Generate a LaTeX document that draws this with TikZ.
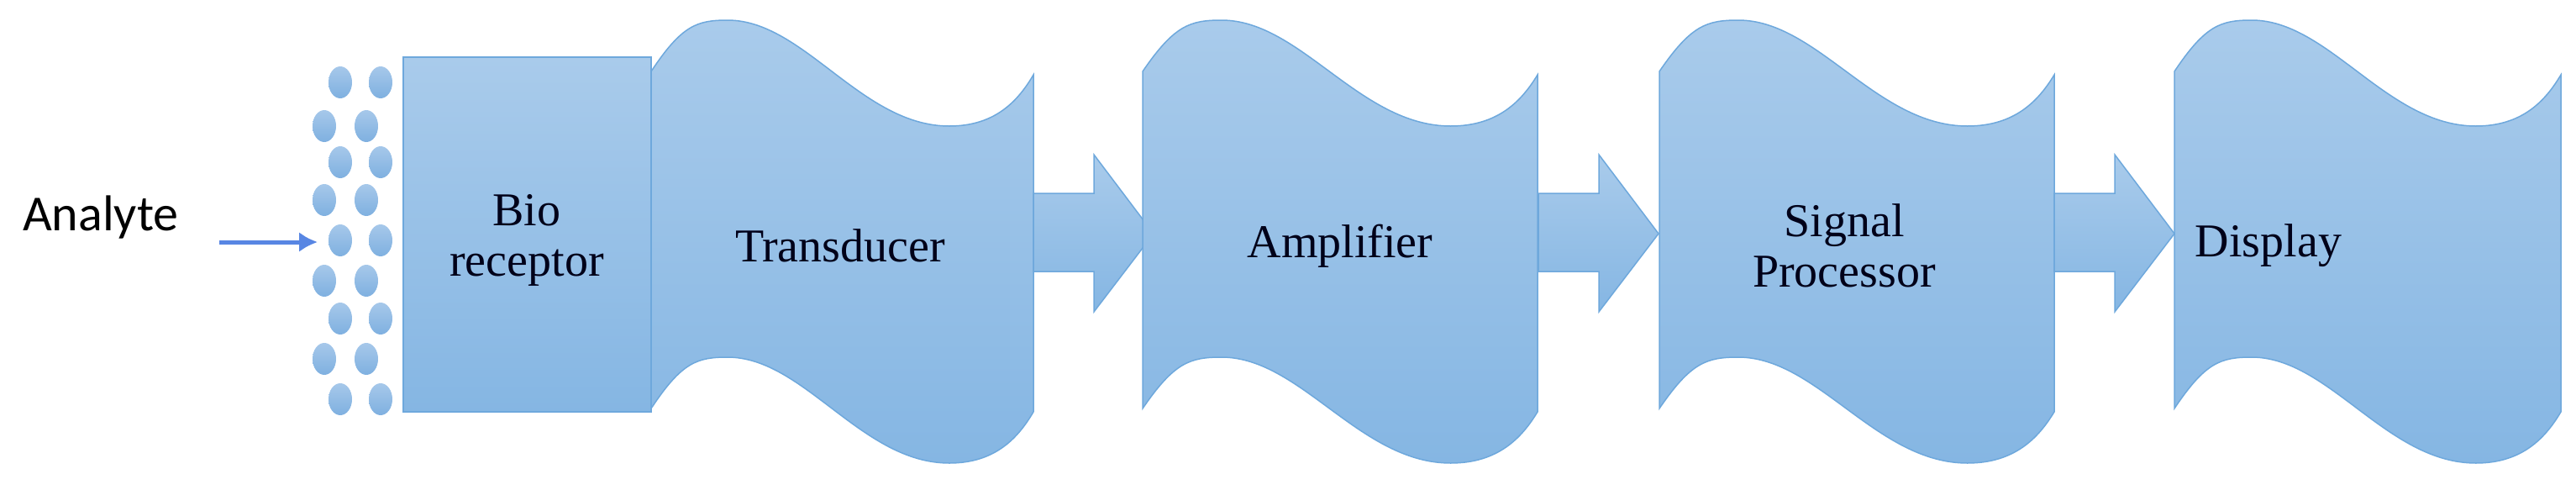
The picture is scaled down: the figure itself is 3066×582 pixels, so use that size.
\documentclass[tikz,border=0pt]{standalone}
\usetikzlibrary{shapes.geometric,arrows.meta}
\usepackage{fontspec}
\setmainfont{Liberation Serif}
\newfontfamily\sansf{Carlito}
\begin{document}
\begin{tikzpicture}[x=1pt,y=-1pt,
  blk/.style={top color=boxtop,bottom color=boxbot,draw=boxline,line width=1.5pt},
  dot/.style={ellipse,minimum width=28pt,minimum height=38pt,inner sep=0pt,top color=dottop,bottom color=dotbot,draw=none},
  lbl/.style={font=\fontsize{56}{66}\selectfont,align=center,text=black!90!blue}]
\definecolor{boxtop}{HTML}{A9CBEB}
\definecolor{boxbot}{HTML}{85B6E3}
\definecolor{boxline}{HTML}{6EA8DC}
\definecolor{dottop}{HTML}{A6C8EA}
\definecolor{dotbot}{HTML}{7FB0E0}
\useasboundingbox (0,0) rectangle (3066,582);
\newcommand\wavebox[2]{% left, width
  \begin{scope}[shift={(#1,0)},xscale=#2]
  \path[blk] (0,85) .. controls (0.08,30) and (0.12,24) .. (0.2,24)
    .. controls (0.4,24) and (0.55,150) .. (0.78,150)
    .. controls (0.9,150) and (0.96,120) .. (1,89)
    -- (1,490)
    .. controls (0.96,521) and (0.9,551) .. (0.78,551)
    .. controls (0.55,551) and (0.4,425) .. (0.2,425)
    .. controls (0.12,425) and (0.08,431) .. (0,486) -- cycle;
  \end{scope}}
\newcommand\blockarrow[1]{%
  \path[blk] (#1,230) -- (#1+72,230) -- (#1+72,184) -- (#1+143,278)
    -- (#1+72,371) -- (#1+72,323) -- (#1,323) -- cycle;}
% dots
\foreach \y/\x in {98/405,150/386,193/405,238/386,286/405,334/386,379/405,427/386,475/405}
  \node[dot] at (\x,\y) {};
\foreach \y/\x in {98/453,150/436,193/453,238/436,286/453,334/436,379/453,427/436,475/453}
  \node[dot] at (\x,\y) {};
% shapes
\wavebox{775}{455}
\path[blk] (480,68) rectangle (775,490);
\blockarrow{1230}
\wavebox{1360}{470}
\blockarrow{1831}
\wavebox{1975}{470}
\blockarrow{2445}
\wavebox{2588}{460}
% labels
\node[font=\sansf\fontsize{60}{70}\selectfont] (analyte) at (120,258) {Analyte};
\coordinate (as) at (261,288);
\coordinate (ae) at (378,288);
\draw[line width=5pt,draw=boxline!80!blue,-{Latex[length=22pt,width=24pt]}] (as) -- (ae);
\node[lbl] (bio) at (627,286) {Bio\\[-6pt]receptor};
\node[lbl] (tr) at (1000,292) {Transducer};
\node[lbl] (amp) at (1595,293) {Amplifier};
\node[lbl] (sp) at (2195,292) {Signal\\[-6pt]Processor};
\node[lbl] (dis) at (2700,292) {Display};
\end{tikzpicture}
\end{document}
